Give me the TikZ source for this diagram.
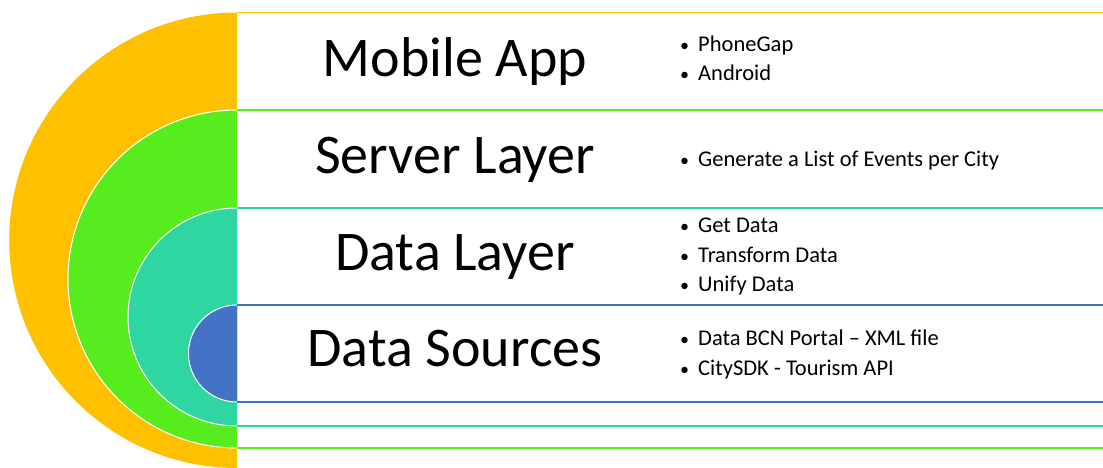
\documentclass[tikz,border=0pt]{standalone}
\usepackage{fontspec}
\setmainfont{Carlito}
\definecolor{layerA}{HTML}{FFC000}
\definecolor{layerB}{HTML}{56EC1E}
\definecolor{layerC}{HTML}{30D6A2}
\definecolor{layerD}{HTML}{4472C4}
\tikzset{
  title/.style={anchor=base, inner sep=0pt, font=\fontsize{56}{62}\selectfont},
  item/.style={anchor=base west, inner sep=0pt, font=\fontsize{22.5}{26}\selectfont},
  edge/.style={line width=1.5pt},
  ring/.style={draw=white, line width=1pt}
}
\newcommand{\bul}[1]{\makebox[18pt][l]{\fontsize{18}{20}\selectfont\textbullet}#1}
\begin{document}
\begin{tikzpicture}[x=1pt,y=-1pt]
\useasboundingbox (0,0) rectangle (1103,468);

% half discs, clipped at the spine x=237
\begin{scope}
  \clip (0,0) rectangle (237,468);
  \fill[layerA] (237,240.25) circle[radius=227.75pt];
  \path[ring, fill=layerB] (237,279) circle[radius=169pt];
  \path[ring, fill=layerC] (237,317) circle[radius=109pt];
  \path[ring, fill=layerD] (237,353.5) circle[radius=48.5pt];
\end{scope}

% band borders
\coordinate (a1) at (237,12.5);  \coordinate (a2) at (1103,12.5);
\coordinate (b1) at (237,110);   \coordinate (b2) at (1103,110);
\coordinate (c1) at (237,208);   \coordinate (c2) at (1103,208);
\coordinate (d1) at (237,305);   \coordinate (d2) at (1103,305);
\coordinate (e1) at (237,402);   \coordinate (e2) at (1103,402);
\coordinate (f1) at (237,426);   \coordinate (f2) at (1103,426);
\coordinate (g1) at (237,448);   \coordinate (g2) at (1103,448);
\draw[edge, layerA] (a1) -- (a2);
\draw[edge, layerB] (b1) -- (b2);
\draw[edge, layerC] (c1) -- (c2);
\draw[edge, layerD] (d1) -- (d2);
\draw[edge, layerD] (e1) -- (e2);
\draw[edge, layerC] (f1) -- (f2);
\draw[edge, layerB] (g1) -- (g2);

% layer titles
\node[title] (tmob) at (455,76.7) {Mobile App};
\node[title] (tsrv) at (455,173.5) {Server Layer};
\node[title] (tdat) at (455,270) {Data Layer};
\node[title] (tsrc) at (455,366.7) {Data Sources};

% layer contents
\node[item] (m1) at (680,51.7) {\bul{PhoneGap}};
\node[item] (m2) at (680,81) {\bul{Android}};
\node[item] (s1) at (680,166) {\bul{Generate a List of Events per City}};
\node[item] (d1t) at (680,232.3) {\bul{Get Data}};
\node[item] (d2t) at (680,262.3) {\bul{Transform Data}};
\node[item] (d3t) at (680,291.7) {\bul{Unify Data}};
\node[item] (r1) at (680,345.7) {\bul{Data BCN Portal – XML file}};
\node[item] (r2) at (680,375) {\bul{CitySDK - Tourism API}};
\end{tikzpicture}
\end{document}
